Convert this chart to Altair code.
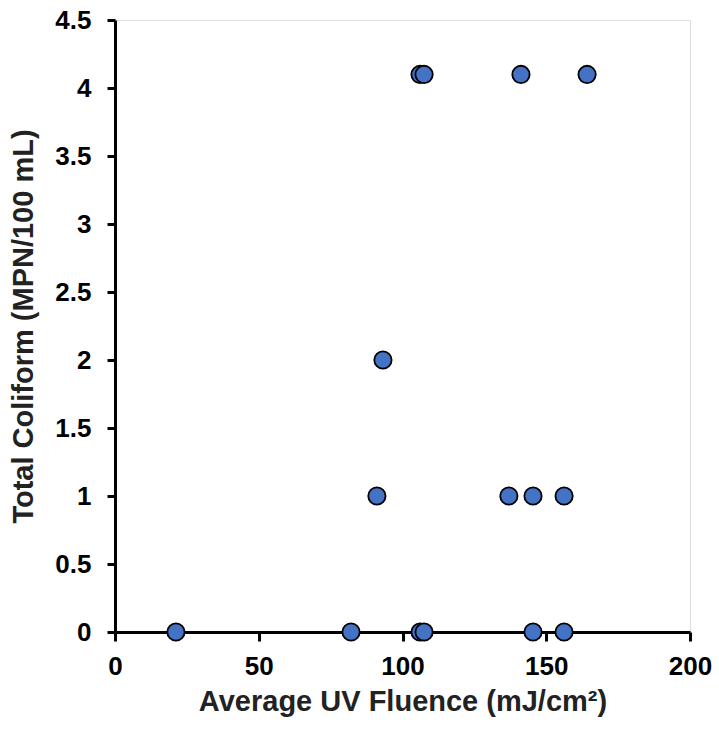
import altair as alt
import pandas as pd

fluence = [21.2, 82.1, 106.1, 107.5, 145.4, 156.2,
           91.1, 137.0, 145.4, 156.2,
           93.2,
           106.1, 107.5, 141.2, 164.2]
coliform = [0, 0, 0, 0, 0, 0,
            1, 1, 1, 1,
            2,
            4.1, 4.1, 4.1, 4.1]

df = pd.DataFrame({"fluence": fluence, "coliform": coliform})

font = "Liberation Sans"
lab = 26
tit = 29

chart = alt.Chart(df).mark_point(
    filled=True, size=300, fill="#4472C4", stroke="black", strokeWidth=1.8, opacity=1
).encode(
    x=alt.X("fluence:Q", scale=alt.Scale(domain=[0, 200], nice=False),
            axis=alt.Axis(title="Average UV Fluence (mJ/cm²)", values=[0, 50, 100, 150, 200],
                          format="d", labelFlush=False, grid=False,
                          domainColor="black", domainWidth=3,
                          tickColor="black", tickWidth=3, tickSize=9,
                          labelFont=font, labelFontSize=lab, labelFontWeight="bold",
                          labelColor="black", labelPadding=12,
                          titleFont=font, titleFontSize=tit, titleFontWeight="bold",
                          titleColor="#222222", titlePadding=8)),
    y=alt.Y("coliform:Q", scale=alt.Scale(domain=[0, 4.5], nice=False),
            axis=alt.Axis(title="Total Coliform (MPN/100 mL)",
                          values=[0, 0.5, 1, 1.5, 2, 2.5, 3, 3.5, 4, 4.5],
                          format="~g", labelFlush=False, grid=False,
                          domainColor="black", domainWidth=3,
                          tickColor="black", tickWidth=3, tickSize=8,
                          labelFont=font, labelFontSize=lab, labelFontWeight="bold",
                          labelColor="black", labelPadding=16,
                          titleFont=font, titleFontSize=tit, titleFontWeight="bold",
                          titleColor="#222222", titlePadding=16)),
).properties(
    width=575, height=612,
    autosize=alt.AutoSizeParams(type="none"),
    padding={"left": 115, "top": 20, "right": 29, "bottom": 100},
).configure_view(
    stroke="black", strokeWidth=3
).configure(background="white")

chart.save("out.html", embed_options={"renderer": "svg", "actions": False})
